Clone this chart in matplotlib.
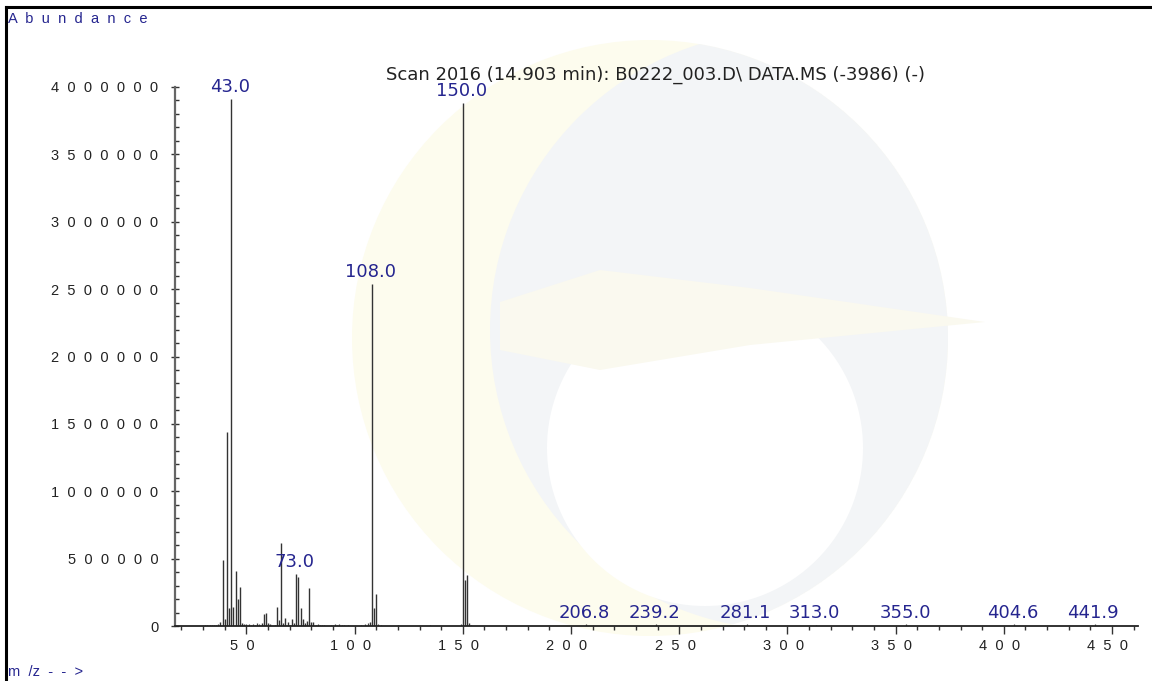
import matplotlib
matplotlib.use("Agg")
import matplotlib.pyplot as plt
from matplotlib.patches import Circle, Polygon
from matplotlib.lines import Line2D
import numpy as np

plt.rcParams['font.family'] = ['Liberation Sans', 'DejaVu Sans']

# ---- data (m/z, abundance) ----
mz_main = [38, 39, 40, 41, 42, 43, 44, 45, 46, 47, 48, 49,
           57, 58, 59, 60, 61, 63, 64, 65, 66, 67, 68, 69, 70, 71, 72,
           73, 74, 75, 76, 77, 78, 79, 80, 81,
           107, 108, 109, 110, 150, 151, 152, 153]
ab_main = [30000, 490000, 50000, 1440000, 130000, 3910000, 140000, 410000, 200000, 290000, 20000, 15000,
           20000, 90000, 100000, 25000, 15000, 10000, 140000, 45000, 615000, 20000, 60000, 30000, 10000, 55000, 25000,
           385000, 360000, 130000, 50000, 20000, 35000, 280000, 30000, 30000,
           30000, 2540000, 135000, 235000, 3880000, 345000, 380000, 20000]

mz_minor = [31, 32, 33, 34, 35, 36, 37, 50, 51, 52, 53, 54, 55, 56,
            82, 83, 84, 85, 86, 89, 91, 92, 93, 94, 95, 97, 103, 105, 106,
            111, 112, 120, 135, 149, 154,
            206.8, 239.2, 281.1, 313.0, 355.0, 404.6, 441.9]
ab_minor = [5000, 6000, 5000, 6000, 8000, 10000, 12000, 12000, 15000, 10000, 15000, 10000, 20000, 15000,
            10000, 12000, 8000, 10000, 8000, 8000, 12000, 10000, 18000, 8000, 10000, 6000, 8000, 12000, 20000,
            12000, 6000, 6000, 8000, 12000, 6000,
            12000, 12000, 12000, 10000, 12000, 12000, 12000]

labels_mz = [43.0, 73.0, 108.0, 150.0, 206.8, 239.2, 281.1, 313.0, 355.0, 404.6, 441.9]
labels_ab = [3910000, 385000, 2540000, 3880000, 12000, 12000, 12000, 10000, 12000, 12000, 12000]

title = "Scan 2016 (14.903 min): B0222_003.D\\ DATA.MS (-3986) (-)"

W, H = 1152, 681
fig = plt.figure(figsize=(W / 100, H / 100), dpi=100)

# ---- background: watermark and frame (pixel coords) ----
bg = fig.add_axes([0, 0, 1, 1], zorder=0)
bg.set_xlim(0, W)
bg.set_ylim(H, 0)
bg.axis('off')
gray = '#f3f5f7'
yel = '#fdfcee'
outer = Circle((650, 338), 298, facecolor=yel, edgecolor='none')
bg.add_patch(outer)
gcirc = Circle((790, 330), 300, facecolor=gray, edgecolor='none')
bg.add_patch(gcirc)
gcirc.set_clip_path(Circle((650, 338), 298, transform=bg.transData))
bg.add_patch(Circle((705, 448), 158, facecolor='white', edgecolor='none'))
bg.add_patch(Polygon([(500, 302), (600, 270), (750, 288), (985, 322), (750, 345), (600, 370), (500, 350)],
                     closed=True, facecolor='#faf9ef', edgecolor='none'))
bg.add_line(Line2D([6, 6], [7, H], color='black', linewidth=2.2))
bg.add_line(Line2D([6, W], [7, 7], color='black', linewidth=2.2))

# ---- main axes ----
ax = fig.add_axes([175 / W, 1 - 626 / H, (1138 - 175) / W, (626 - 87) / H], zorder=1)
ax.patch.set_alpha(0)
ax.set_xlim(17, 462)
ax.set_ylim(0, 4000000)

ax.vlines(mz_minor, 0, ab_minor, colors='#444444', linewidth=0.9)
ax.vlines(mz_main, 0, ab_main, colors='#333333', linewidth=1.0)

blue = '#25258f'
for m, a in zip(labels_mz, labels_ab):
    ax.annotate(f"{m:.1f}", (m, a), xytext=(-1, 2), textcoords='offset points',
                ha='center', va='bottom', color=blue, fontsize=13,
                family=['DejaVu Sans'])

for s in ['top', 'right']:
    ax.spines[s].set_visible(False)
ax.spines['left'].set_color('#666666')
ax.spines['left'].set_linewidth(1.6)
ax.spines['bottom'].set_color('#222222')
ax.spines['bottom'].set_linewidth(1.3)

def spaced(v):
    return "  ".join(str(int(v)))

yt = np.arange(0, 4000001, 500000)
ax.set_yticks(yt)
ax.set_yticklabels([spaced(v) for v in yt])
ax.set_yticks(np.arange(0, 4000001, 100000), minor=True)
xt = np.arange(50, 451, 50)
ax.set_xticks(xt)
ax.set_xticklabels([spaced(v) + "  " for v in xt])
ax.set_xticks(np.arange(20, 461, 10), minor=True)

ax.tick_params(axis='y', which='major', direction='inout', length=6, width=1, pad=9,
               labelsize=10.5, labelcolor='#222222', color='#333333')
ax.tick_params(axis='y', which='minor', direction='in', length=3, width=1, color='#333333')
ax.tick_params(axis='x', which='major', direction='out', length=6, width=1, pad=3,
               labelsize=10.5, labelcolor='#222222', color='#333333')
ax.tick_params(axis='x', which='minor', direction='out', length=3, width=1, color='#333333')

fig.text(655 / W, 1 - 75 / H, title, ha='center', va='center', fontsize=13,
         color='#222222', family=['DejaVu Sans'])
fig.text(8 / W, 1 - 19 / H, "A  b  u  n  d  a  n  c  e", ha='left', va='center', fontsize=10.5, color=blue)
fig.text(8 / W, 1 - 672 / H, "m  /z  -  -  >", ha='left', va='center', fontsize=10.5, color=blue)

fig.savefig("out.png", dpi=100)
